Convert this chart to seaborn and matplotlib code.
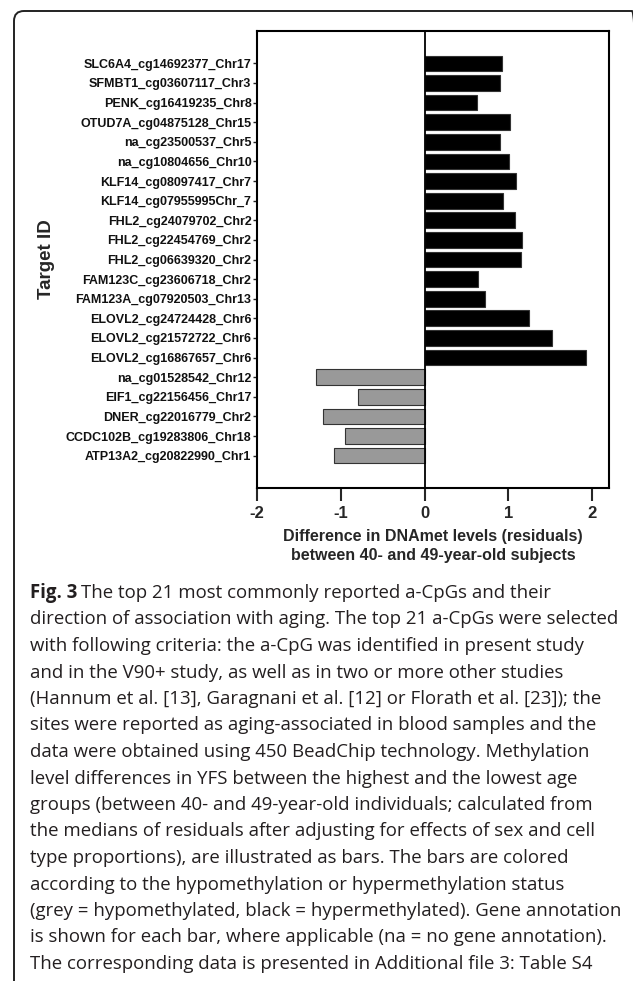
import matplotlib
matplotlib.use("Agg")
import matplotlib.pyplot as plt
import seaborn as sns
import pandas as pd
from matplotlib.patches import FancyBboxPatch

# target IDs, top to bottom as drawn
target_ids = [
    "SLC6A4_cg14692377_Chr17", "SFMBT1_cg03607117_Chr3", "PENK_cg16419235_Chr8",
    "OTUD7A_cg04875128_Chr15", "na_cg23500537_Chr5", "na_cg10804656_Chr10",
    "KLF14_cg08097417_Chr7", "KLF14_cg07955995Chr_7", "FHL2_cg24079702_Chr2",
    "FHL2_cg22454769_Chr2", "FHL2_cg06639320_Chr2", "FAM123C_cg23606718_Chr2",
    "FAM123A_cg07920503_Chr13", "ELOVL2_cg24724428_Chr6", "ELOVL2_cg21572722_Chr6",
    "ELOVL2_cg16867657_Chr6", "na_cg01528542_Chr12", "EIF1_cg22156456_Chr17",
    "DNER_cg22016779_Chr2", "CCDC102B_cg19283806_Chr18", "ATP13A2_cg20822990_Chr1",
]
# difference in DNAmet residuals (49 vs 40 year olds)
diff_values = [
    0.92, 0.90, 0.63, 1.02, 0.90, 1.01, 1.09, 0.93, 1.08, 1.16, 1.15,
    0.64, 0.72, 1.25, 1.52, 1.92, -1.30, -0.79, -1.21, -0.95, -1.08,
]
x_ticks = [-2, -1, 0, 1, 2]

caption_lines = [
    "The top 21 most commonly reported a-CpGs and their",
    "direction of association with aging. The top 21 a-CpGs were selected",
    "with following criteria: the a-CpG was identified in present study",
    "and in the V90+ study, as well as in two or more other studies",
    "(Hannum et al. [13], Garagnani et al. [12] or Florath et al. [23]); the",
    "sites were reported as aging-associated in blood samples and the",
    "data were obtained using 450 BeadChip technology. Methylation",
    "level differences in YFS between the highest and the lowest age",
    "groups (between 40- and 49-year-old individuals; calculated from",
    "the medians of residuals after adjusting for effects of sex and cell",
    "type proportions), are illustrated as bars. The bars are colored",
    "according to the hypomethylation or hypermethylation status",
    "(grey = hypomethylated, black = hypermethylated). Gene annotation",
    "is shown for each bar, where applicable (na = no gene annotation).",
    "The corresponding data is presented in Additional file 3: Table S4",
]

df = pd.DataFrame({"target": target_ids, "diff": diff_values})
df["status"] = ["hyper" if v > 0 else "hypo" for v in df["diff"]]

sns.set_theme(style="white")
plt.rcParams["font.family"] = ["Liberation Sans", "DejaVu Sans"]

W, H = 633, 981
fig = plt.figure(figsize=(W / 100, H / 100), dpi=100)

# rounded frame around the panel (cut off at right and bottom)
frame = FancyBboxPatch((0.14, -0.4), 6.28, 9.7 + 0.4,
                       boxstyle="round,pad=0,rounding_size=0.1",
                       transform=fig.dpi_scale_trans, fill=False,
                       edgecolor="#222222", linewidth=1.4)
fig.patches.append(frame)

left, right, top, bottom = 257, 609, 31, 488
ax = fig.add_axes([left / W, 1 - bottom / H, (right - left) / W, (bottom - top) / H])

sns.barplot(data=df, x="diff", y="target", hue="status",
            palette={"hyper": "black", "hypo": "#999999"},
            dodge=False, width=0.8, edgecolor="#333333", linewidth=0.8,
            legend=False, ax=ax)

ax.axvline(0, color="black", lw=1.3, zorder=3)
ax.set_xlim(-2, 2.2)
ax.set_ylim(len(target_ids) - 1 + 1.65, -1.65)

for s in ax.spines.values():
    s.set_visible(True)
    s.set_color("black")
    s.set_linewidth(1.5)

ax.set_xticks(x_ticks)
ax.set_xticklabels([str(t) for t in x_ticks], fontsize=12, fontweight="bold")
ax.tick_params(axis="x", direction="out", length=9, width=1.5, pad=4, bottom=True)
ax.tick_params(axis="y", direction="out", length=3, width=1, pad=1, left=True,
               labelsize=9)
for lbl in ax.get_yticklabels():
    lbl.set_fontweight("bold")
    lbl.set_color("#111111")

ax.set_xlabel("Difference in DNAmet levels (residuals)\nbetween 40- and 49-year-old subjects",
              fontsize=11.5, fontweight="bold", labelpad=6, linespacing=1.3)
ax.set_ylabel("Target ID", fontsize=13.5, fontweight="bold")
ax.yaxis.set_label_coords((55 - left) / (right - left), 0.5)

# caption below the chart
cap_font = ["Open Sans", "DejaVu Sans"]
cap_size = 13.4
x0 = 30 / W
base0 = 598
step = 26.5
fig_lbl = fig.text(x0, 1 - base0 / H, "Fig. 3", family=cap_font, fontsize=cap_size,
                   fontweight="bold", color="#231f20", va="baseline")
fig.canvas.draw()
bb = fig_lbl.get_window_extent()
fig.text(bb.x1 / W + 4 / W, 1 - base0 / H, caption_lines[0], family=cap_font,
         fontsize=cap_size, color="#231f20", va="baseline")
for i, line in enumerate(caption_lines[1:], start=1):
    fig.text(x0, 1 - (base0 + step * i) / H, line, family=cap_font,
             fontsize=cap_size, color="#231f20", va="baseline")

fig.savefig("out.png", dpi=100)
